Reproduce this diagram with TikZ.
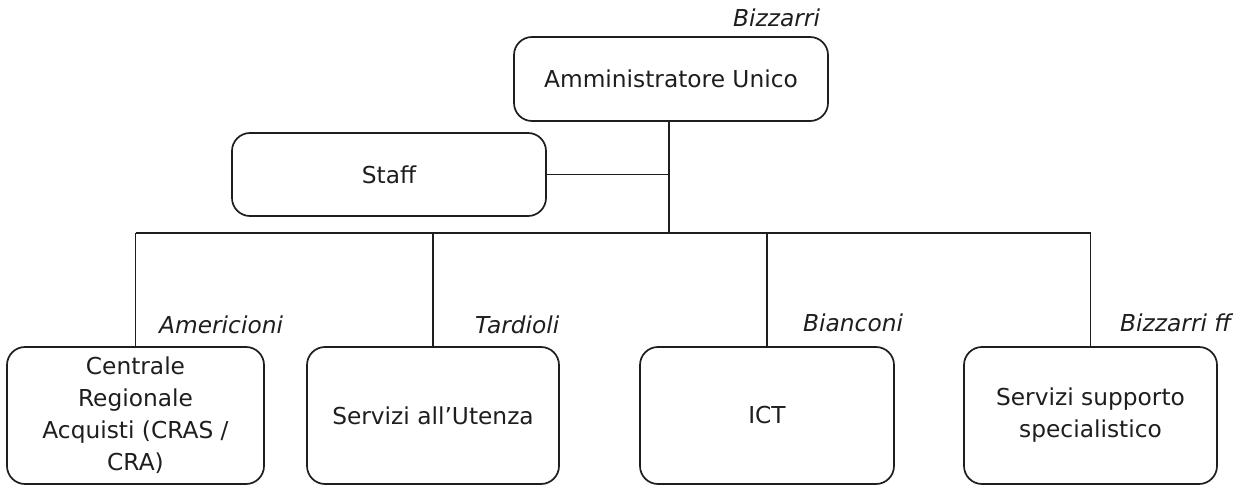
\documentclass[tikz,border=0pt]{standalone}
\usepackage{fontspec}
\setmainfont{DejaVu Sans}
\definecolor{ink}{HTML}{1E1E1E}
\begin{document}
\begin{tikzpicture}[x=1pt,y=-1pt,
  box/.style={draw=ink, line width=1.7pt, rounded corners=18pt, inner sep=0pt,
    align=center, text=ink, font=\fontsize{23.3}{32}\selectfont},
  conn/.style={draw=ink, line width=1.5pt},
  lbl/.style={anchor=base west, inner sep=0pt, text=ink, font=\fontsize{23.3}{28}\selectfont\itshape}]
\useasboundingbox (0,0) rectangle (1252,486);
\node[box, minimum width=314pt, minimum height=84pt] (amm) at (671,79) {Amministratore Unico};
\node[box, minimum width=314pt, minimum height=83pt] (staff) at (389,174.5) {Staff};
\node[box, minimum width=257pt, minimum height=137pt] (b1) at (135.5,415.5) {Centrale\\Regionale\\Acquisti (CRAS /\\CRA)};
\node[box, minimum width=252pt, minimum height=137pt] (b2) at (433,415.5) {Servizi all’Utenza};
\node[box, minimum width=254pt, minimum height=137pt] (b3) at (767,415.5) {ICT};
\node[box, minimum width=253pt, minimum height=137pt] (b4) at (1090.5,415.5) {Servizi supporto\\specialistico};
\coordinate (bus) at (669,233);
\node[lbl] (lamm) at (733,27) {Bizzarri};
\node[lbl] (l1) at (159,333) {Americioni};
\node[lbl] (l2) at (475,333) {Tardioli};
\node[lbl] (l3) at (803,331) {Bianconi};
\node[lbl] (l4) at (1120,331) {Bizzarri ff};
\draw[conn] (amm.south -| bus) -- (bus);
\draw[conn] (staff.east) -- (staff.east -| bus);
\draw[conn] (b1.north |- bus) -- (b4.north |- bus);
\draw[conn] (b1.north |- bus) -- (b1.north);
\draw[conn] (b2.north |- bus) -- (b2.north);
\draw[conn] (b3.north |- bus) -- (b3.north);
\draw[conn] (b4.north |- bus) -- (b4.north);
\end{tikzpicture}
\end{document}
